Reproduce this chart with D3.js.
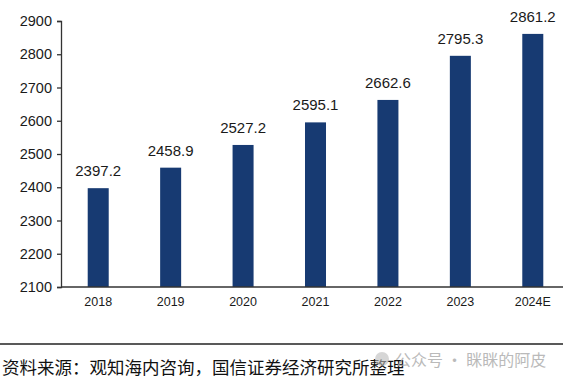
<!DOCTYPE html>
<html>
<head>
<meta charset="utf-8">
<script src="https://cdn.jsdelivr.net/npm/d3@7"></script>
<style>
  body { margin: 0; background: #fff; }
  svg { display: block; font-family: "Liberation Sans", Arial, sans-serif; }
</style>
</head>
<body>
<svg id="chart" width="563" height="382"></svg>
<script>
// data
var years = ["2018", "2019", "2020", "2021", "2022", "2023", "2024E"];
var values = [2397.2, 2458.9, 2527.2, 2595.1, 2662.6, 2795.3, 2861.2];
var yTicks = [2100, 2200, 2300, 2400, 2500, 2600, 2700, 2800, 2900];
var source = "资料来源：观知海内咨询，国信证券经济研究所整理";
var watermark = "公众号 · 眯眯的阿皮";

var svg = d3.select("#chart");

var x = d3.scaleBand()
    .domain(years)
    .range([62, 569])
    .paddingInner(0.71)
    .paddingOuter(0.355);

var y = d3.scaleLinear()
    .domain([2100, 2900])
    .range([287, 21]);

// bars
svg.selectAll("rect.bar")
    .data(values)
  .enter().append("rect")
    .attr("class", "bar")
    .attr("x", function(d, i) { return x(years[i]); })
    .attr("y", function(d) { return y(d); })
    .attr("width", x.bandwidth())
    .attr("height", function(d) { return y(2100) - y(d); })
    .attr("fill", "#173a72");

// value labels above bars
svg.selectAll("text.val")
    .data(values)
  .enter().append("text")
    .attr("class", "val")
    .attr("x", function(d, i) { return x(years[i]) + x.bandwidth() / 2; })
    .attr("y", function(d) { return y(d) - 12; })
    .attr("text-anchor", "middle")
    .attr("font-size", "15px")
    .attr("fill", "#1a1a1a")
    .text(function(d) { return d.toFixed(1); });

// y axis
var yAxis = svg.append("g")
    .attr("transform", "translate(61,0)")
    .call(d3.axisLeft(y).tickValues(yTicks).tickFormat(d3.format("d")).tickSize(4).tickPadding(5));
yAxis.select(".domain").attr("stroke", "#333").attr("stroke-width", 1.3);
yAxis.selectAll(".tick line").attr("stroke", "#333").attr("stroke-width", 1.3);
yAxis.selectAll("text")
    .attr("font-size", "14.5px")
    .attr("fill", "#1a1a1a")
    .attr("font-family", "Liberation Sans, Arial, sans-serif");

// x axis
var xAxis = svg.append("g")
    .attr("transform", "translate(0,287)")
    .call(d3.axisBottom(x).tickSize(0).tickPadding(10));
xAxis.select(".domain")
    .attr("d", "M61,0H563")
    .attr("stroke", "#333")
    .attr("stroke-width", 1.3);
xAxis.selectAll("text")
    .attr("font-size", "12.5px")
    .attr("fill", "#1a1a1a")
    .attr("font-family", "Liberation Sans, Arial, sans-serif");

// source note
svg.append("line")
    .attr("x1", 0).attr("x2", 563)
    .attr("y1", 344).attr("y2", 344)
    .attr("stroke", "#222")
    .attr("stroke-width", 1.5);

svg.append("text")
    .attr("x", 2)
    .attr("y", 374)
    .attr("font-size", "17.5px")
    .attr("font-family", "Noto Sans CJK SC, sans-serif")
    .attr("fill", "#111")
    .text(source);

// faint watermark
svg.append("circle")
    .attr("cx", 382).attr("cy", 359).attr("r", 7)
    .attr("fill", "#bbb").attr("opacity", 0.6);
svg.append("text")
    .attr("x", 395)
    .attr("y", 366)
    .attr("font-size", "16px")
    .attr("font-family", "Noto Sans CJK SC, sans-serif")
    .attr("fill", "#aaa")
    .attr("opacity", 0.8)
    .text(watermark);
</script>
</body>
</html>
